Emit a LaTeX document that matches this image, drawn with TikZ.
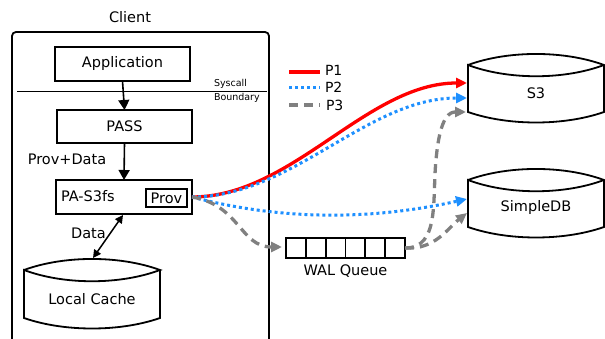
\documentclass[tikz,border=0pt]{standalone}
\usepackage{fontspec}
\setmainfont{DejaVu Sans}
\usetikzlibrary{arrows.meta,calc}
\definecolor{pred}{RGB}{255,0,0}
\definecolor{pblue}{RGB}{30,144,255}
\definecolor{pgray}{RGB}{128,128,128}
\newcommand\drawcyl[1]{%
  \draw[cylline] (#1.north west) .. controls +(40,-14.7) and +(-40,-14.7) .. (#1.north east)
    .. controls +(-40,15) and +(40,15) .. (#1.north west) -- (#1.south west)
    .. controls +(40,14) and +(-40,14) .. (#1.south east) -- (#1.north east);}
\begin{document}
\begin{tikzpicture}[x=1pt,y=-1pt,
  font=\fontsize{14.5}{17}\selectfont,
  box/.style={draw,line width=2pt,inner sep=0pt,outer sep=0pt,minimum width=135pt,minimum height=34pt},
  cylbody/.style={inner sep=0pt,outer sep=0pt,minimum width=136pt,minimum height=47pt},
  cylline/.style={line width=1.8pt},
  txt/.style={inner sep=0pt,outer sep=0pt},
  small/.style={txt,font=\fontsize{9.5}{11}\selectfont,anchor=west},
  blackarrow/.style={line width=1.6pt,-{Triangle[length=10pt,width=11pt]}},
  p1/.style={draw=pred,line width=3.3pt},
  p2/.style={draw=pblue,line width=3pt,dash pattern=on 3pt off 3pt},
  p3/.style={draw=pgray,line width=3.3pt,dash pattern=on 9pt off 6pt},
  tipc/.style={-{Triangle[length=11pt,width=10pt]}}
]
\useasboundingbox (0,0) rectangle (605,339);
\fill[white] (0,0) rectangle (605,339);

% Client frame
\node[txt] (client) at (130,17) {Client};
\coordinate (cbl) at (12,350);
\coordinate (cbr) at (269,350);
\draw[line width=1.8pt,rounded corners=4pt] (cbl) -- (12,32) -- (269,32) -- (cbr);

% Boxes
\node[box] (app) at (122.5,64) {Application};
\node[box,minimum height=33pt] (pass) at (124.5,126.5) {PASS};
\node[box,minimum width=136pt,minimum height=34pt] (pas3fs) at (124,197) {};
\node[txt,anchor=west] (pas3fst) at (61,196) {PA-S3fs};
\node[draw,line width=1.8pt,inner sep=0pt,outer sep=0pt,minimum width=41pt,minimum height=18pt] (prov) at (166.5,198) {Prov};

% Syscall boundary
\coordinate (sbl) at (17,91.5);
\coordinate (sbr) at (267,91.5);
\draw[line width=1.1pt] (sbl) -- (sbr);
\node[small] (sys1) at (214,84) {Syscall};
\node[small] (sys2) at (214,98) {Boundary};

% Arrows inside client
\draw[blackarrow] (app.south) -- (pass.north);
\draw[blackarrow] (pass.south) -- (pas3fs.north);
\node[txt] (provdata) at (67,159) {Prov+Data};

% Local cache
\node[cylbody,minimum height=48pt] (cache) at (92,294) {};
\drawcyl{cache}
\node[txt] (cachet) at (92,299) {Local Cache};
\coordinate (datatop) at (123,215);
\coordinate (databot) at (93,258);
\draw[line width=1.5pt,{Triangle[length=8pt,width=8pt]}-{Triangle[length=8pt,width=8pt]}] (datatop) -- (databot);
\node[txt] (datat) at (88.5,233) {Data};

% S3 and SimpleDB
\node[cylbody] (s3) at (536,88.5) {};
\drawcyl{s3}
\node[txt] (s3t) at (536,93.5) {S3};
\node[cylbody] (sdb) at (536,203.5) {};
\drawcyl{sdb}
\node[txt] (sdbt) at (536,208) {SimpleDB};

% WAL queue
\node[draw,line width=1.8pt,inner sep=0pt,outer sep=0pt,minimum width=119pt,minimum height=20pt] (wal) at (345.5,248) {};
\foreach \i in {1,...,5} \draw[line width=1.8pt] ($(wal.north west)+(\i*19.83,0)$) -- ($(wal.south west)+(\i*19.83,0)$);
\node[txt] (walt) at (345.5,271) {WAL Queue};

% Legend
\coordinate (l1a) at (289,72); \coordinate (l1b) at (320,72);
\coordinate (l2a) at (289,88); \coordinate (l2b) at (320,88);
\coordinate (l3a) at (289,105); \coordinate (l3b) at (320,105);
\draw[p1] (l1a) -- (l1b);
\draw[p2] (l2a) -- (l2b);
\draw[p3] (l3a) -- (l3b);
\node[txt,anchor=west,font=\fontsize{14}{16}\selectfont] (lp1) at (325,70.5) {P1};
\node[txt,anchor=west,font=\fontsize{14}{16}\selectfont] (lp2) at (325,87) {P2};
\node[txt,anchor=west,font=\fontsize{14}{16}\selectfont] (lp3) at (326,105) {P3};

% Paths
\coordinate (s3p1) at ($(s3.west)+(-1,-5.5)$);
\coordinate (s3p2) at ($(s3.west)+(-1,9.5)$);
\coordinate (s3p3) at ($(s3.south west)+(-2,0)$);
\coordinate (sdbp2) at ($(sdb.west)+(-1,-4.5)$);
\coordinate (sdbp3) at ($(sdb.south west)+(-1,-14)$);
\coordinate (walin) at ($(wal.west)+(-4,-1)$);
\coordinate (s3mid) at (436,160);

\draw[p1,tipc] (pas3fs.east) .. controls +(100,0) and +(-100,0) .. (s3p1);
\draw[p2,tipc] (pas3fs.east) .. controls +(100,0) and +(-100,0) .. (s3p2);
\draw[p2,tipc] (pas3fs.east) .. controls +(95,25) and +(-90,20) .. (sdbp2);
\draw[p3,tipc] (pas3fs.east) .. controls (240,205) and (240,247) .. (walin);
\draw[p3,tipc] (wal.east) .. controls (440,248) and (432,200) .. (s3mid) .. controls (440,115) and (450,112) .. (s3p3);
\draw[p3,tipc] (wal.east) .. controls (435,250) and (448,228) .. (sdbp3);
\end{tikzpicture}
\end{document}
